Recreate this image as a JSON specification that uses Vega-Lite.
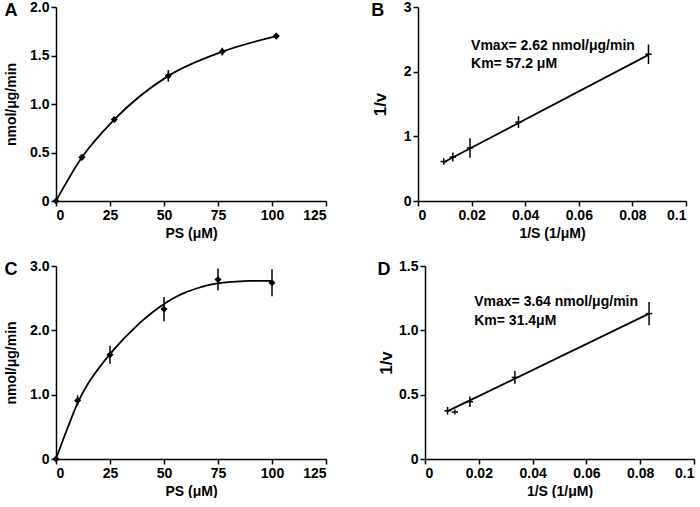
{
  "$schema": "https://vega.github.io/schema/vega-lite/v6.json",
  "padding": {"left": 4, "top": 0, "right": 4, "bottom": 0},
  "background": "white",
  "spacing": 19,
  "config": {
    "font": "Liberation Sans",
    "view": {"stroke": null},
    "axis": {
      "grid": false,
      "labelFont": "Liberation Sans",
      "labelFontWeight": "bold",
      "labelFontSize": 14,
      "labelColor": "black",
      "labelPadding": 2,
      "titleFont": "Liberation Sans",
      "titleFontWeight": "bold",
      "titleFontSize": 14,
      "titleColor": "black",
      "domainColor": "black",
      "domainWidth": 1.5,
      "tickColor": "black",
      "tickWidth": 1.5,
      "tickSize": 5
    },
    "title": {"font": "Liberation Sans", "fontSize": 18, "fontWeight": "bold", "anchor": "start", "frame": "bounds", "color": "black", "offset": -20}
  },
  "datasets": {
    "a": [
      {"s": 0, "v": 0, "e": 0},
      {"s": 12, "v": 0.45, "e": 0.02},
      {"s": 27, "v": 0.84, "e": 0.02},
      {"s": 52, "v": 1.29, "e": 0.06},
      {"s": 77, "v": 1.54, "e": 0.04},
      {"s": 102, "v": 1.70, "e": 0.02}
    ],
    "b": [
      {"s": 0.0096, "v": 0.61, "e": 0.05},
      {"s": 0.013, "v": 0.68, "e": 0.07},
      {"s": 0.0194, "v": 0.82, "e": 0.15},
      {"s": 0.0375, "v": 1.22, "e": 0.09},
      {"s": 0.086, "v": 2.27, "e": 0.15}
    ],
    "bfit": [
      {"s": 0.0096, "v": 0.6},
      {"s": 0.086, "v": 2.26}
    ],
    "c": [
      {"s": 0, "v": 0, "e": 0},
      {"s": 10, "v": 0.91, "e": 0.08},
      {"s": 25, "v": 1.62, "e": 0.14},
      {"s": 50, "v": 2.33, "e": 0.19},
      {"s": 75, "v": 2.79, "e": 0.17},
      {"s": 100, "v": 2.74, "e": 0.21}
    ],
    "cfit": [
      {"s": 0, "v": 0}, {"s": 5, "v": 0.45}, {"s": 10, "v": 0.87}, {"s": 15, "v": 1.18},
      {"s": 20, "v": 1.42}, {"s": 25, "v": 1.63}, {"s": 30, "v": 1.82}, {"s": 35, "v": 1.99},
      {"s": 40, "v": 2.15}, {"s": 45, "v": 2.29}, {"s": 50, "v": 2.41}, {"s": 55, "v": 2.51},
      {"s": 60, "v": 2.59}, {"s": 65, "v": 2.65}, {"s": 70, "v": 2.7}, {"s": 75, "v": 2.73},
      {"s": 80, "v": 2.75}, {"s": 85, "v": 2.76}, {"s": 90, "v": 2.77}, {"s": 100, "v": 2.77}
    ],
    "d": [
      {"s": 0.0084, "v": 0.375, "e": 0.03},
      {"s": 0.0111, "v": 0.365, "e": 0.02},
      {"s": 0.0167, "v": 0.445, "e": 0.04},
      {"s": 0.0334, "v": 0.634, "e": 0.05},
      {"s": 0.0833, "v": 1.13, "e": 0.09}
    ],
    "dfit": [
      {"s": 0.0084, "v": 0.372},
      {"s": 0.0833, "v": 1.13}
    ],
    "bnote": [
      {"s": 0.0198, "v": 2.4, "label": "Vmax= 2.62 nmol/μg/min"},
      {"s": 0.0198, "v": 2.12, "label": "Km= 57.2 μM"}
    ],
    "dnote": [
      {"s": 0.0183, "v": 1.218, "label": "Vmax= 3.64 nmol/μg/min"},
      {"s": 0.0183, "v": 1.07, "label": "Km= 31.4μM"}
    ]
  },
  "vconcat": [
    {
      "spacing": 44,
      "hconcat": [
        {
          "title": {"text": "A"},
          "width": 270, "height": 194,
          "encoding": {
            "x": {"field": "s", "type": "quantitative", "scale": {"domain": [0, 125]}, "axis": {"values": [0, 25, 50, 75, 100, 125], "title": "PS  (μM)"}},
            "y": {"field": "v", "type": "quantitative", "scale": {"domain": [0, 2]}, "axis": {"values": [0, 0.5, 1, 1.5, 2], "labelExpr": "datum.value == 0 ? '0' : format(datum.value, '.1f')", "title": "nmol/μg/min", "titlePadding": 11}}
          },
          "layer": [
            {"data": {"name": "a"}, "mark": {"type": "line", "interpolate": "monotone", "color": "black", "strokeWidth": 1.8}},
            {"data": {"name": "a"}, "mark": {"type": "errorbar", "color": "black", "thickness": 1.5}, "encoding": {"yError": {"field": "e"}}},
            {"data": {"name": "a"}, "mark": {"type": "point", "shape": "diamond", "filled": true, "color": "black", "size": 50, "opacity": 1}}
          ]
        },
        {
          "title": {"text": "B"},
          "width": 268, "height": 194,
          "encoding": {
            "x": {"field": "s", "type": "quantitative", "scale": {"domain": [0, 0.1]}, "axis": {"values": [0, 0.02, 0.04, 0.06, 0.08, 0.1], "labelExpr": "format(datum.value, '~g')", "title": "1/S (1/μM)"}},
            "y": {"field": "v", "type": "quantitative", "scale": {"domain": [0, 3]}, "axis": {"values": [0, 1, 2, 3], "title": "1/v", "titlePadding": 14, "titleFontSize": 17}}
          },
          "layer": [
            {"data": {"name": "bfit"}, "mark": {"type": "line", "color": "black", "strokeWidth": 1.8}},
            {"data": {"name": "b"}, "mark": {"type": "errorbar", "color": "black", "thickness": 1.5}, "encoding": {"yError": {"field": "e"}}},
            {"data": {"name": "b"}, "mark": {"type": "point", "shape": "stroke", "color": "black", "size": 40, "strokeWidth": 1.5, "opacity": 1}},
            {
              "data": {"name": "bnote"},
              "mark": {"type": "text", "align": "left", "baseline": "middle", "fontSize": 14, "fontWeight": "bold", "font": "Liberation Sans", "color": "black"},
              "encoding": {"text": {"field": "label", "type": "nominal"}}
            }
          ]
        }
      ]
    },
    {
      "spacing": 50,
      "hconcat": [
        {
          "title": {"text": "C"},
          "width": 270, "height": 193,
          "encoding": {
            "x": {"field": "s", "type": "quantitative", "scale": {"domain": [0, 125]}, "axis": {"values": [0, 25, 50, 75, 100, 125], "title": "PS  (μM)"}},
            "y": {"field": "v", "type": "quantitative", "scale": {"domain": [0, 3]}, "axis": {"values": [0, 1, 2, 3], "labelExpr": "datum.value == 0 ? '0' : format(datum.value, '.1f')", "title": "nmol/μg/min", "titlePadding": 11}}
          },
          "layer": [
            {"data": {"name": "cfit"}, "mark": {"type": "line", "interpolate": "monotone", "color": "black", "strokeWidth": 1.8}},
            {"data": {"name": "c"}, "mark": {"type": "errorbar", "color": "black", "thickness": 1.5}, "encoding": {"yError": {"field": "e"}}},
            {"data": {"name": "c"}, "mark": {"type": "point", "shape": "diamond", "filled": true, "color": "black", "size": 50, "opacity": 1}}
          ]
        },
        {
          "title": {"text": "D"},
          "width": 269, "height": 193,
          "encoding": {
            "x": {"field": "s", "type": "quantitative", "scale": {"domain": [0, 0.1]}, "axis": {"values": [0, 0.02, 0.04, 0.06, 0.08, 0.1], "labelExpr": "format(datum.value, '~g')", "title": "1/S (1/μM)"}},
            "y": {"field": "v", "type": "quantitative", "scale": {"domain": [0, 1.5]}, "axis": {"values": [0, 0.5, 1, 1.5], "labelExpr": "datum.value == 0 ? '0' : format(datum.value, '.1f')", "title": "1/v", "titlePadding": 3, "titleFontSize": 17}}
          },
          "layer": [
            {"data": {"name": "dfit"}, "mark": {"type": "line", "color": "black", "strokeWidth": 1.8}},
            {"data": {"name": "d"}, "mark": {"type": "errorbar", "color": "black", "thickness": 1.5}, "encoding": {"yError": {"field": "e"}}},
            {"data": {"name": "d"}, "mark": {"type": "point", "shape": "stroke", "color": "black", "size": 40, "strokeWidth": 1.5, "opacity": 1}},
            {
              "data": {"name": "dnote"},
              "mark": {"type": "text", "align": "left", "baseline": "middle", "fontSize": 14, "fontWeight": "bold", "font": "Liberation Sans", "color": "black"},
              "encoding": {"text": {"field": "label", "type": "nominal"}}
            }
          ]
        }
      ]
    }
  ]
}
